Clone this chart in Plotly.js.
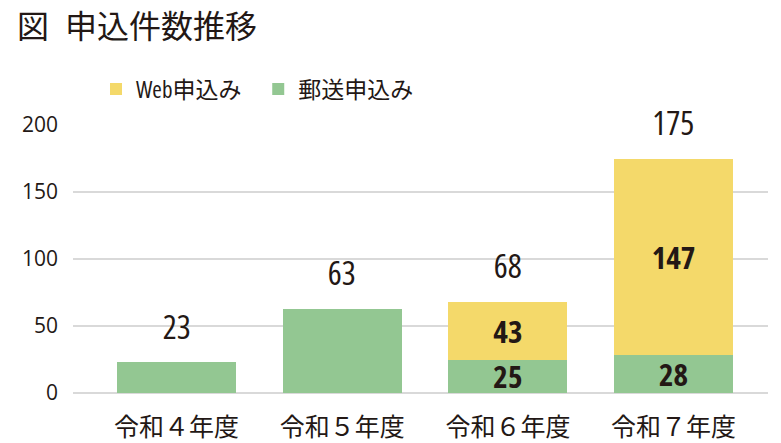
<!DOCTYPE html>
<html>
<head>
<meta charset="utf-8">
<script src="https://cdn.plot.ly/plotly-3.0.1.min.js"></script>
<style>
html,body{margin:0;padding:0;background:#fff;}
#chart{width:781px;height:443px;}
#chart text.bartext, #chart text.annotation-text.num, #chart text.legendtext {font-stretch: 75% !important;}
</style>
</head>
<body>
<div id="chart"></div>
<script>
const categories = ["令和４年度", "令和５年度", "令和６年度", "令和７年度"];
const mailValues = [23, 63, 25, 28];
const webValues = [null, null, 43, 147];
const totalValues = [23, 63, 68, 175];
const mailLabels = ["", "", "25", "28"];
const webLabels = ["", "", "43", "147"];
const seriesNames = ["郵送申込み", "Web申込み"];
const yTicks = [0, 50, 100, 150, 200];

const ink = "#231815";
const numFont = "'Open Sans', sans-serif";
const jpFont = "'Noto Sans CJK JP', sans-serif";

const insideFont = {family: numFont, size: 31, color: ink, weight: 700};

const traces = [
  {
    type: "bar", name: seriesNames[0], x: categories, y: mailValues,
    text: mailLabels, textposition: "inside", insidetextanchor: "middle",
    textangle: 0, constraintext: "none", insidetextfont: insideFont,
    marker: {color: "#93C792"}, hoverinfo: "none"
  },
  {
    type: "bar", name: seriesNames[1], x: categories, y: webValues,
    text: webLabels, textposition: "inside", insidetextanchor: "middle",
    textangle: 0, constraintext: "none", insidetextfont: insideFont,
    marker: {color: "#F4D96A"}, hoverinfo: "none"
  }
];

const annotations = categories.map((c, i) => ({
  x: c, y: totalValues[i], xref: "x", yref: "y",
  text: String(totalValues[i]), showarrow: false,
  yanchor: "middle", yshift: 36,
  font: {family: numFont, size: 33, color: ink}
}));
annotations.push({
  xref: "paper", yref: "paper", x: (15-73)/695, y: 1 + (125-24)/268,
  xanchor: "left", yanchor: "middle", showarrow: false,
  text: "図\u2002申込件数推移",
  font: {family: jpFont, size: 32, color: ink}
});

const layout = {
  width: 781, height: 443,
  margin: {l: 73, r: 13, t: 125, b: 50, pad: 0},
  paper_bgcolor: "#fff", plot_bgcolor: "#fff",
  barmode: "stack", bargap: 0.282,
  showlegend: true,
  legend: {
    orientation: "h", traceorder: "reversed",
    x: (96-73)/695, xanchor: "left", y: 1 + (125-89)/268, yanchor: "middle",
    font: {family: "'Open Sans', 'Noto Sans CJK JP', sans-serif", size: 23, color: ink},
    itemwidth: 30, bgcolor: "rgba(0,0,0,0)"
  },
  xaxis: {
    type: "category", range: [-0.625, 3.57],
    showgrid: false, zeroline: false, showline: false, ticks: "",
    tickfont: {family: jpFont, size: 25, color: ink},
    ticklabelstandoff: 17, fixedrange: true
  },
  yaxis: {
    range: [0, 200], tickvals: yTicks,
    showgrid: true, gridcolor: "#D9D9D9", gridwidth: 1.5,
    zeroline: true, zerolinecolor: "#D9D9D9", zerolinewidth: 1.5,
    showline: false, ticks: "",
    tickfont: {family: "'Open Sans', sans-serif", size: 21, color: ink},
    ticklabelstandoff: 14, fixedrange: true
  },
  annotations: annotations
};

Plotly.newPlot("chart", traces, layout, {staticPlot: true, displayModeBar: false}).then(() => {
  document.querySelectorAll("#chart .annotation-text").forEach(el => {
    if (/^\d+$/.test(el.textContent)) el.classList.add("num");
  });
});
</script>
</body>
</html>
